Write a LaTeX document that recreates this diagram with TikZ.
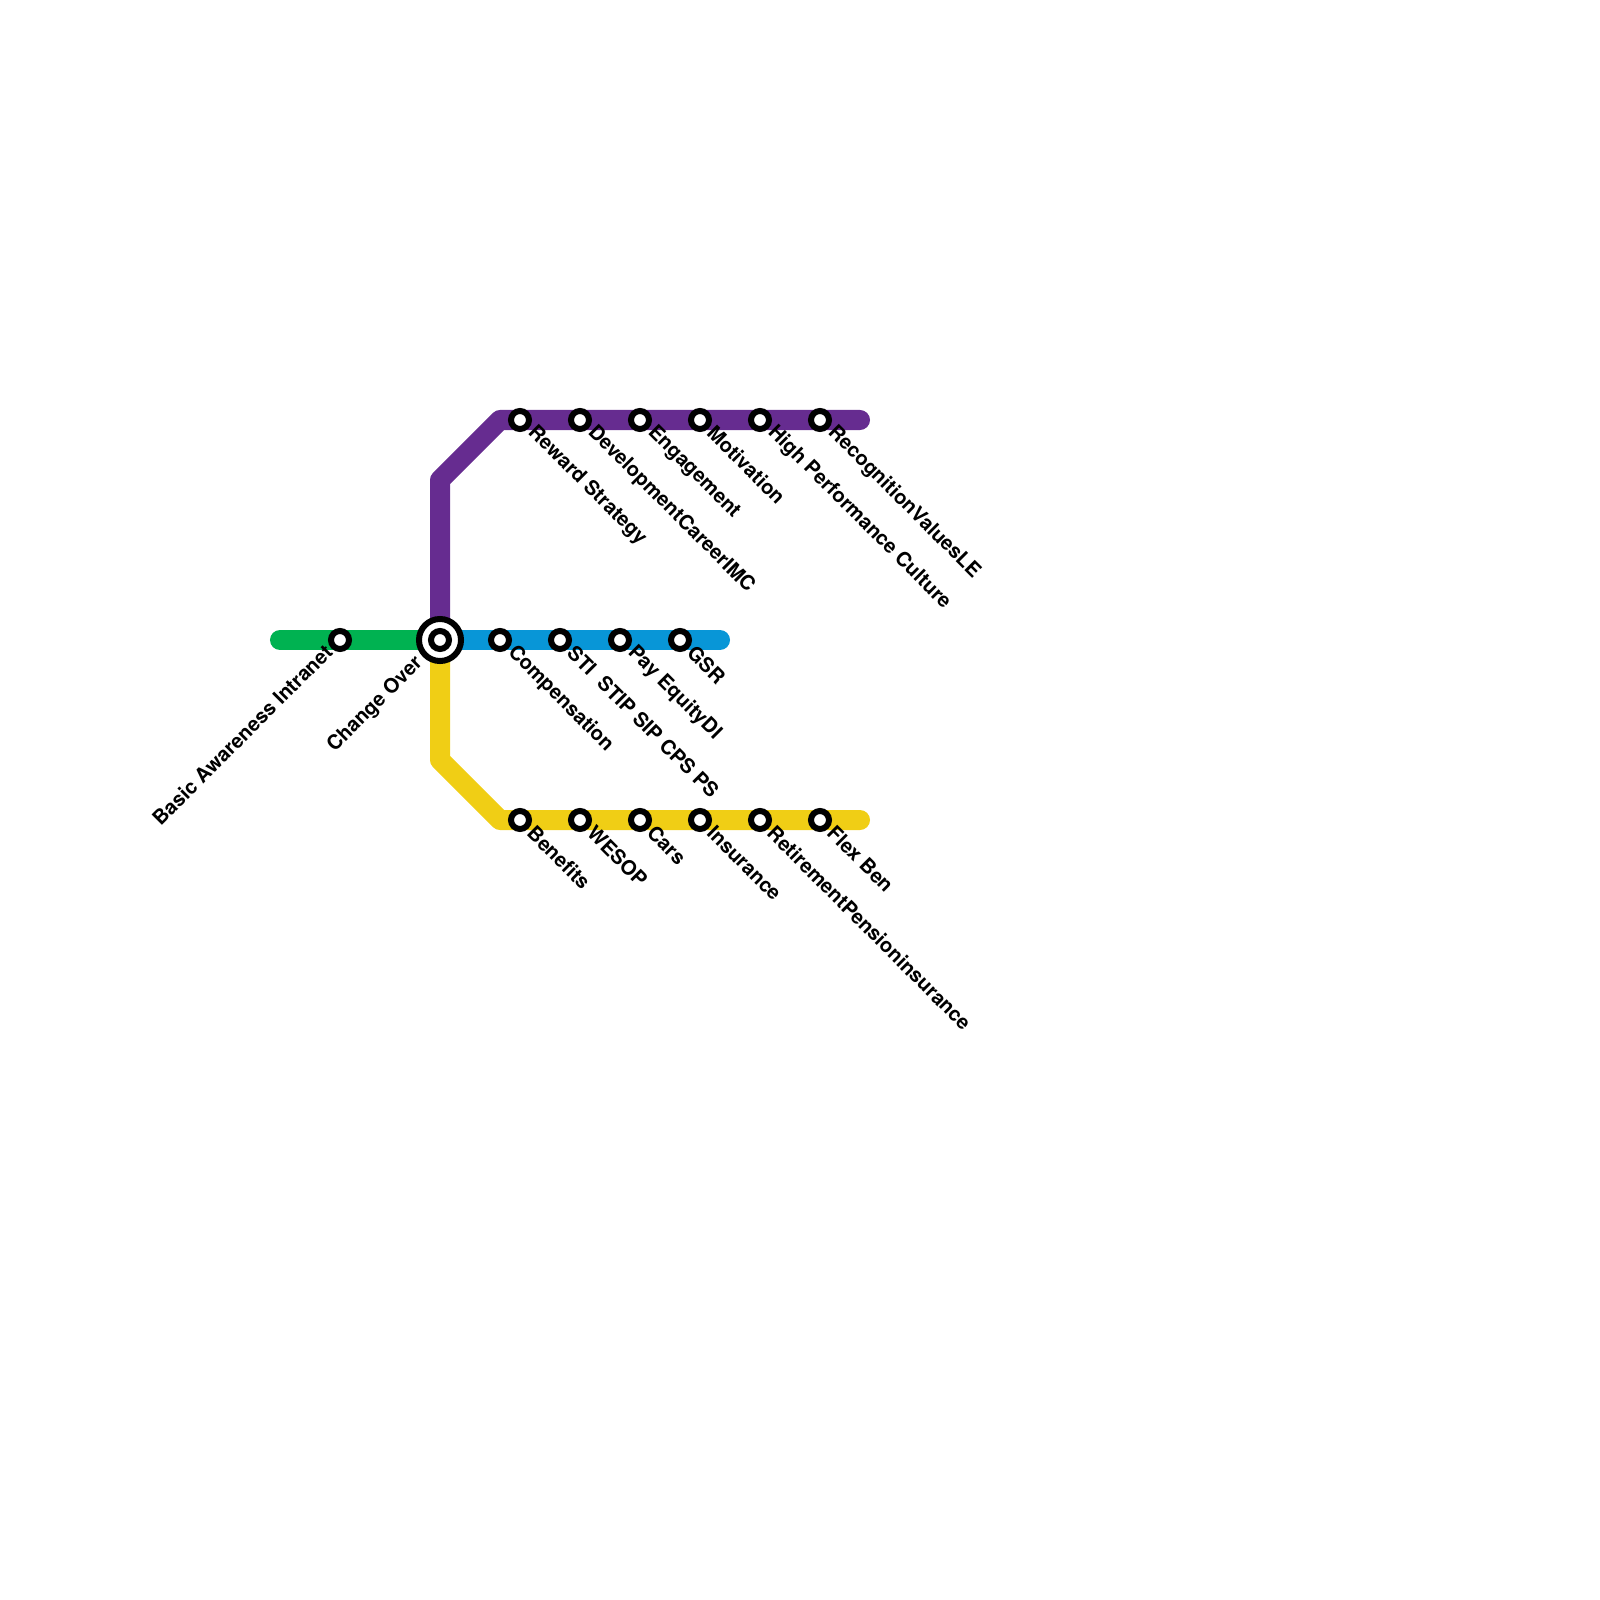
\documentclass[tikz,border=0pt]{standalone}
\usepackage{fontspec}
\setmainfont{TeX Gyre Heros}
\begin{document}
\begin{tikzpicture}[x=0.01cm,y=-0.01cm,
  metro/.style={line width=0.2cm,line cap=round,line join=round},
  stn/.style={circle,draw=black,fill=white,line width=0.06cm,minimum size=0.18cm,inner sep=0pt},
  hubouter/.style={circle,draw=black,fill=white,line width=0.06cm,minimum size=0.42cm,inner sep=0pt},
  lblr/.style={font=\bfseries\fontsize{5.72pt}{6.5pt}\selectfont,rotate=-45,anchor=west,inner sep=0pt,text=black},
  lbll/.style={font=\bfseries\fontsize{5.72pt}{6.5pt}\selectfont,rotate=45,anchor=east,inner sep=0pt,text=black}]
\definecolor{cgreen}{HTML}{00B251}
\definecolor{cpurple}{HTML}{662C90}
\definecolor{cblue}{HTML}{0896D7}
\definecolor{cyellow}{HTML}{F0CE15}
\useasboundingbox (0,0) rectangle (1600,1600);
\coordinate (hub) at (440,640);
\coordinate (gend) at (280,640);
\coordinate (pa) at (440,480);
\coordinate (pb) at (500,420);
\coordinate (pend) at (860,420);
\coordinate (bend) at (720,640);
\coordinate (ya) at (440,760);
\coordinate (yb) at (500,820);
\coordinate (yend) at (860,820);
\draw[metro,cgreen] (gend) -- (hub);
\draw[metro,cpurple] (hub) -- (pa) -- (pb) -- (pend);
\draw[metro,cblue] (hub) -- (bend);
\draw[metro,cyellow] (hub) -- (ya) -- (yb) -- (yend);
\node[stn] (s1) at (340,640) {};
\node[hubouter] (h1) at (hub) {};
\node[stn] (h2) at (hub) {};
\foreach \n/\x in {p1/520,p2/580,p3/640,p4/700,p5/760,p6/820} \node[stn] (\n) at (\x,420) {};
\foreach \n/\x in {b1/500,b2/560,b3/620,b4/680} \node[stn] (\n) at (\x,640) {};
\foreach \n/\x in {y1/520,y2/580,y3/640,y4/700,y5/760,y6/820} \node[stn] (\n) at (\x,820) {};
\node[lbll] (ls1) at (329,648) {Basic Awareness Intranet};
\node[lbll] (lh) at (420,660) {Change Over};
\foreach \n/\t in {p1/Reward Strategy,p2/DevelopmentCareerIMC,p3/Engagement,p4/Motivation,p5/High Performance Culture,p6/RecognitionValuesLE,b1/Compensation,b2/STI\ \ STIP SIP CPS PS,b3/Pay EquityDI,b4/GSR,y1/Benefits,y2/WESOP,y3/Cars,y4/Insurance,y5/RetirementPensioninsurance,y6/Flex Ben}
  \node[lblr] (l\n) at ([shift={(10.5,9)}]\n.center) {\t};
\end{tikzpicture}
\end{document}
